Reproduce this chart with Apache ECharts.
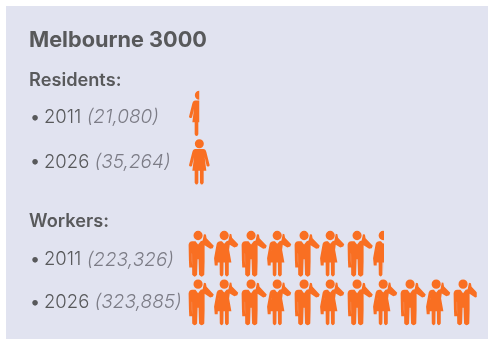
<!DOCTYPE html>
<html><head><meta charset="utf-8">
<style>html,body{margin:0;padding:0;background:#fff}#c{width:488px;height:339px}</style>
<script src="https://cdn.jsdelivr.net/npm/echarts@6/dist/echarts.min.js"></script>
</head><body><div id="c"></div>
<script>
const titleText = 'Melbourne 3000';
const groupResidents = 'Residents:';
const groupWorkers = 'Workers:';
const years = ['2011', '2026'];
const residentCounts = ['(21,080)', '(35,264)'];
const workerCounts = ['(223,326)', '(323,885)'];
// figures drawn per row
const residentIcons = [0.5, 1];
const workerIcons = [7.5, 11];

const ORANGE = '#f96f22', FONT = 'Inter';
const maxIcons = 12;

// icon outlines, drawn on a zoomed canvas; the corner marks fix the tile box
function box(x0, y0, x1, y1) {
  return 'M' + x0 + ' ' + y0 + 'h0.01v0.01zM' + (x1 - 0.01) + ' ' + (y1 - 0.01) + 'h0.01v0.01z';
}
const manPath = 'M41 47a14 14 0 1 0 28 0a14 14 0 1 0 -28 0Z' +
  'M37 64L47 64L55 74L63 64L69 62L73 43L79 44L81 55L103 78L100 85L92 87L75 76L75 125L74 165Q66 176 58 165L56.5 118L53.5 118L52 165Q45 176 37 165L36.5 100L36 100L36 122L37 143L28 143L27 122L26 75Q27 65 37 64Z';
const womanPath = 'M121 47a14 14 0 1 0 28 0a14 14 0 1 0 -28 0Z' +
  'M122 64L128 64L135 72L142 64L148 62L152 42L157 43L159 54L178 73L175 80L166 83L152 75L150 90L157 128L149 128L149 165Q143 175 137.5 165L137 128L133 128L132.5 165Q127 175 121.5 165L121 128L113 128L119 90L119 88L116 115L115 137L106 137L104 115L112 72Q114 65 122 64Z';
const pairSymbol = 'path://' + box(15.75, 33, 174.75, 171) + manPath + womanPath;

const residentPath = 'M44.5 191.5a13.5 13.5 0 1 0 27 0a13.5 13.5 0 1 0 -27 0Z' +
  'M46 207L70 207Q77 207 79 216L89 256Q87 262 80 258L74 232L79 272L71 272L71 308Q65 319 60 308L60 272L55 272L55 308Q50 319 44 308L44 272L37 272L42 232L36 258Q29 262 27 256L37 216Q39 207 46 207Z';
const residentSymbol = 'path://' + box(18, 178, 97.5, 314) + residentPath;

function rowLabel(counts) {
  return function (v, i) { return '{b|•}{y|' + v + '} {v|' + counts[i] + '}'; };
}
function yAxis(idx, counts, margin, firstPad) {
  return {
    type: 'category', gridIndex: idx, inverse: true,
    data: [{ value: years[0], textStyle: { align: 'left', padding: [firstPad, 0, 0, 0] } }, years[1]],
    axisLine: { show: false }, axisTick: { show: false }, splitLine: { show: false },
    axisLabel: {
      align: 'left', margin: margin, formatter: rowLabel(counts),
      rich: {
        b: { fontFamily: FONT, fontSize: 18, color: '#58595b', width: 14, align: 'left' },
        y: { fontFamily: FONT, fontSize: 18.5, fontWeight: 300, color: '#58595b' },
        v: { fontFamily: FONT, fontSize: 19, fontWeight: 300, fontStyle: 'italic', color: '#7c7c86', padding: [0, 0, 0, 2] }
      }
    }
  };
}
function xAxis(idx) {
  return { type: 'value', gridIndex: idx, min: 0, max: maxIcons, show: false };
}
function series(idx, values, symbol, size) {
  return {
    type: 'pictorialBar', xAxisIndex: idx, yAxisIndex: idx, data: values,
    symbol: symbol, symbolSize: size, symbolRepeat: true, symbolMargin: 0,
    symbolClip: true, symbolBoundingData: maxIcons, barCategoryGap: 0,
    itemStyle: { color: ORANGE }, silent: true, animation: false
  };
}
function head(text, top, size, weight) {
  return { text: text, left: 29, top: top, padding: 0,
    textStyle: { fontFamily: FONT, fontSize: size, fontWeight: weight, color: '#58595b' } };
}

const chart = echarts.init(document.getElementById('c'), null, { renderer: 'canvas' });
chart.setOption({
  animation: false,
  backgroundColor: '#ffffff',
  graphic: [{ type: 'rect', z: -10, silent: true, shape: { x: 6, y: 6, width: 482, height: 333 }, style: { fill: '#e1e3f0' } }],
  title: [head(titleText, 29, 21.7, 700), head(groupResidents, 71.5, 18.2, 600), head(groupWorkers, 213, 18.2, 600)],
  grid: [
    { left: 186, top: 89.25, width: 318, height: 97, outerBoundsMode: 'none' },
    { left: 185.25, top: 229.5, width: 318, height: 97.3, outerBoundsMode: 'none' }
  ],
  xAxis: [xAxis(0), xAxis(1)],
  yAxis: [yAxis(0, residentCounts, 156, 8), yAxis(1, workerCounts, 155.25, 12)],
  series: [
    series(0, residentIcons, residentSymbol, [26.5, 45.5]),
    series(1, workerIcons, pairSymbol, [53, 46])
  ]
});
</script></body></html>
